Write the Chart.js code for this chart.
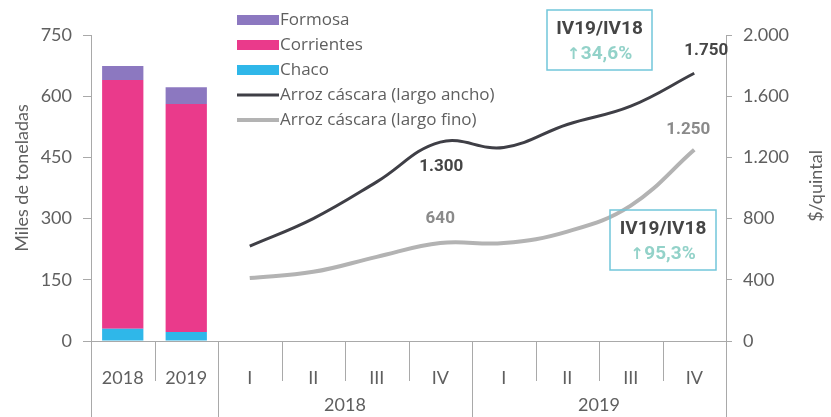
<!DOCTYPE html>
<html>
<head>
<meta charset="utf-8">
<script src="https://cdn.jsdelivr.net/npm/chart.js@4.4.1/dist/chart.umd.min.js"></script>
<style>
  body { margin: 0; background: #fff; }
  #wrap { width: 831px; height: 417px; position: relative; }
</style>
</head>
<body>
<div id="wrap"><canvas id="arrozChart"></canvas></div>
<script>
// categories: two years of harvest, then quarters of 2018 and 2019
const categories = ['2018', '2019', 'I', 'II', 'III', 'IV', 'I', 'II', 'III', 'IV'];
const groups = ['2018', '2019'];

// production, miles de toneladas
const chaco = [30, 22, null, null, null, null, null, null, null, null];
const corrientes = [610, 559, null, null, null, null, null, null, null, null];
const formosa = [34, 41, null, null, null, null, null, null, null, null];

// prices, $/quintal
const largoAncho = [null, null, 620, 800, 1040, 1300, 1265, 1415, 1535, 1750];
const largoFino = [null, null, 412, 452, 550, 640, 640, 715, 885, 1250];

const leftTicks = [0, 150, 300, 450, 600, 750];
const rightTicks = [0, 400, 800, 1200, 1600, 2000];

const axisColor = '#a9a9a9';
const textColor = '#5f5f5f';
const fontName = 'Lato';

function fmt(v) {
    return String(v).replace(/\B(?=(\d{3})+(?!\d))/g, '.');
}

// separators, group labels, legend, value labels and boxes
const decorations = {
    id: 'decorations',
    afterDraw(chart) {
        const ctx = chart.ctx;
        const x = chart.scales.x;
        const area = chart.chartArea;
        const H = chart.height;
        ctx.save();

        // category separators under the axis
        ctx.strokeStyle = axisColor;
        ctx.lineWidth = 1;
        for (let k = 0; k <= categories.length; k++) {
            let px;
            if (k === 0) px = area.left;
            else if (k === categories.length) px = area.right;
            else px = (x.getPixelForValue(k - 1) + x.getPixelForValue(k)) / 2;
            const long = (k === 0 || k === 2 || k === 6 || k === categories.length);
            ctx.beginPath();
            ctx.moveTo(Math.round(px) + 0.5, area.bottom);
            ctx.lineTo(Math.round(px) + 0.5, long ? H : area.bottom + 40);
            ctx.stroke();
        }

        // year labels under the quarters
        ctx.fillStyle = textColor;
        ctx.font = '18px ' + fontName;
        ctx.textAlign = 'center';
        ctx.textBaseline = 'middle';
        groups.forEach((g, i) => {
            const a = x.getPixelForValue(2 + i * 4);
            const b = x.getPixelForValue(5 + i * 4);
            ctx.fillText(g, (a + b) / 2, 405);
        });

        // axis titles, both reading upward
        ctx.save();
        ctx.translate(22, 178);
        ctx.rotate(-Math.PI / 2);
        ctx.fillText('Miles de toneladas', 0, 0);
        ctx.restore();
        ctx.save();
        ctx.translate(816, 186);
        ctx.rotate(-Math.PI / 2);
        ctx.fillText('$/quintal', 0, 0);
        ctx.restore();

        // legend
        const ds = chart.data.datasets;
        const order = [2, 1, 0, 3, 4];
        ctx.font = '17px "Open Sans"';
        ctx.textAlign = 'left';
        order.forEach((di, i) => {
            const d = ds[di];
            const y = 20 + i * 25;
            if (d.type === 'line') {
                ctx.fillStyle = d.borderColor;
                ctx.fillRect(237, y - d.borderWidth / 2, 42, d.borderWidth);
            } else {
                ctx.fillStyle = d.backgroundColor;
                ctx.fillRect(237, y - 5, 42, 10);
            }
            ctx.fillStyle = textColor;
            ctx.fillText(d.label, 280, y);
        });

        // value labels on the last quarter of each year
        const y1 = chart.scales.y1;
        const lab = (val, idx, dx, dy, color) => {
            ctx.fillStyle = color;
            ctx.font = 'bold 17px Roboto';
            ctx.textAlign = 'center';
            ctx.fillText(fmt(val), x.getPixelForValue(idx) + dx, y1.getPixelForValue(val) + dy);
        };
        lab(largoAncho[5], 5, 1, 25, '#454545');
        lab(largoFino[5], 5, 0, -24, '#8a8a8a');
        lab(largoAncho[9], 9, 12, -23, '#454545');
        lab(largoFino[9], 9, -6, -20, '#8a8a8a');

        // variation boxes
        const box = (bx, by, w, h, pct) => {
            ctx.strokeStyle = '#72c6da';
            ctx.lineWidth = 1.5;
            ctx.strokeRect(bx, by, w, h);
            ctx.textAlign = 'center';
            ctx.fillStyle = '#454545';
            ctx.font = 'bold 19px Roboto';
            ctx.fillText('IV19/IV18', bx + w / 2, by + 19);
            ctx.fillStyle = '#93d2c9';
            ctx.font = 'bold 19px Roboto';
            ctx.fillText(pct, bx + w / 2 + 7, by + 44);
            ctx.font = 'bold 16px "DejaVu Sans"';
            ctx.fillText('\u2191', bx + w / 2 - 26, by + 45);
        };
        box(547, 10, 105, 60, '34,6%');
        box(610, 210, 106, 60, '95,3%');

        ctx.restore();
    }
};

new Chart(document.getElementById('arrozChart'), {
    data: {
        labels: categories,
        datasets: [
            { type: 'bar', label: 'Chaco', data: chaco, backgroundColor: '#2fb7e9', yAxisID: 'y', stack: 'p' },
            { type: 'bar', label: 'Corrientes', data: corrientes, backgroundColor: '#ea3a8b', yAxisID: 'y', stack: 'p' },
            { type: 'bar', label: 'Formosa', data: formosa, backgroundColor: '#8c78c0', yAxisID: 'y', stack: 'p' },
            { type: 'line', label: 'Arroz cáscara (largo ancho)', data: largoAncho, borderColor: '#3f3f46',
              borderWidth: 3, pointRadius: 0, tension: 0.4, yAxisID: 'y1', fill: false },
            { type: 'line', label: 'Arroz cáscara (largo fino)', data: largoFino, borderColor: '#b3b3b3',
              borderWidth: 4, pointRadius: 0, tension: 0.4, yAxisID: 'y1', fill: false }
        ]
    },
    options: {
        responsive: true,
        maintainAspectRatio: false,
        animation: false,
        layout: { padding: { top: 35, left: 0, right: 0, bottom: 0 } },
        datasets: { bar: { barPercentage: 0.65, categoryPercentage: 1 } },
        plugins: {
            legend: { display: false },
            tooltip: { enabled: false }
        },
        scales: {
            x: {
                stacked: true,
                offset: true,
                grid: { display: false },
                border: { display: true, color: axisColor },
                ticks: { color: textColor, font: { family: fontName, size: 18 }, padding: 18, maxRotation: 0, autoSkip: false },
                afterFit: (s) => { s.height = 76; }
            },
            y: {
                position: 'left',
                stacked: true,
                min: 0,
                max: 750,
                afterBuildTicks: (s) => { s.ticks = leftTicks.map(v => ({ value: v })); },
                grid: { drawOnChartArea: false, tickLength: 8, color: axisColor },
                border: { display: true, color: axisColor },
                ticks: { color: textColor, font: { family: fontName, size: 18 }, padding: 11 },
                afterFit: (s) => { s.width = 91; }
            },
            y1: {
                position: 'right',
                stacked: false,
                min: 0,
                max: 2000,
                afterBuildTicks: (s) => { s.ticks = rightTicks.map(v => ({ value: v })); },
                grid: { drawOnChartArea: false, tickLength: 6, color: axisColor },
                border: { display: true, color: axisColor },
                ticks: { color: textColor, font: { family: fontName, size: 18 }, padding: 11, callback: (v) => fmt(v) },
                afterFit: (s) => { s.width = 105; }
            }
        }
    },
    plugins: [decorations]
});
</script>
</body>
</html>
